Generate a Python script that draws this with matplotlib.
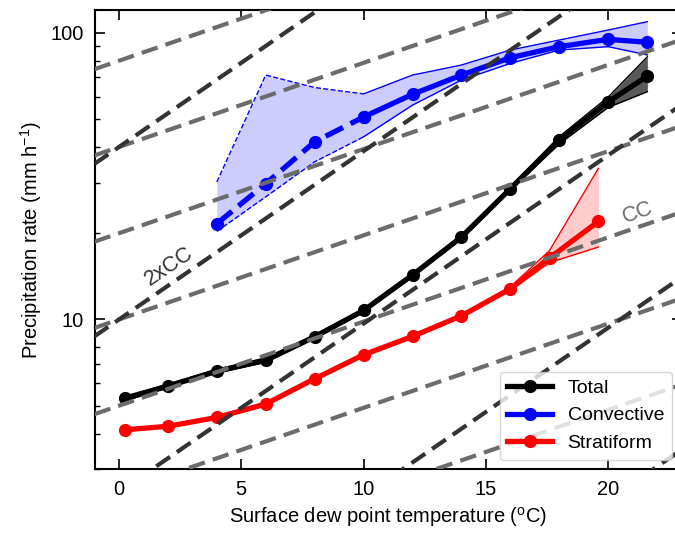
import numpy as np
import matplotlib
matplotlib.use("Agg")
import matplotlib.pyplot as plt

plt.rcParams['font.family'] = ['Liberation Sans', 'DejaVu Sans']
plt.rcParams['mathtext.fontset'] = 'custom'
plt.rcParams['mathtext.rm'] = 'Liberation Sans'
plt.rcParams['mathtext.it'] = 'Liberation Sans:italic'

# ---- data ----
temp_total = [0.25, 2, 4, 6, 8, 10, 12, 14, 16, 18, 20, 21.6]
total = [5.3, 5.85, 6.6, 7.2, 8.7, 10.75, 14.3, 19.4, 28.6, 42.3, 57.5, 70.7]
total_lo = [5.2, 5.8, 6.5, 7.1, 8.6, 10.6, 14.1, 19.1, 28.2, 41.0, 55.0, 62.4]
total_hi = [5.4, 5.95, 6.7, 7.35, 8.85, 10.9, 14.5, 19.7, 29.0, 43.5, 59.8, 82.6]

temp_conv = [4, 6, 8, 10, 12, 14, 16, 18, 20, 21.6]
conv = [21.6, 29.8, 41.7, 50.9, 61.1, 71.3, 82.0, 89.6, 95.0, 92.8]
conv_lo = [20.3, 26.8, 35.5, 43.4, 56.0, 68.5, 78.3, 87.2, 89.6, 83.8]
conv_hi = [30.2, 71.3, 64.5, 61.3, 71.3, 77.3, 87.2, 94.5, 102.4, 109.5]
conv_dashed_n = 4  # first 4 points drawn dashed

temp_strat = [0.25, 2, 4, 6, 8, 10, 12, 14, 16, 17.6, 19.6]
strat = [4.12, 4.24, 4.55, 5.07, 6.21, 7.53, 8.73, 10.3, 12.8, 16.4, 22.0]
strat_lo = [4.1, 4.2, 4.5, 5.0, 6.15, 7.45, 8.65, 10.2, 12.6, 15.8, 17.9]
strat_hi = [4.15, 4.28, 4.6, 5.12, 6.28, 7.6, 8.8, 10.4, 13.0, 17.4, 33.7]

cc_rate = 1.07
cc_bases = [1.25, 2.5, 5, 10, 20, 40, 80]
cc2_bases = [0.15625, 0.625, 2.5, 10, 40]

xlim = (-1, 23)
ylim = (3, 120)

W, H = 675, 533
fig = plt.figure(figsize=(W / 100, H / 100), dpi=100)
ax = fig.add_axes([94.5 / W, (H - 469.3) / H, (681.6 - 94.5) / W, (469.3 - 10.3) / H])
ax.set_yscale('log')
ax.set_xlim(*xlim)
ax.set_ylim(*ylim)

# total
ax.fill_between(temp_total, total_lo, total_hi, color='0.35', lw=0, zorder=2)
ax.plot(temp_total, total_lo, color='k', lw=1, zorder=3)
ax.plot(temp_total, total_hi, color='k', lw=1, zorder=3)
ax.plot(temp_total, total, color='k', lw=3.8, marker='o', ms=8.5, zorder=4, label='Total')

# convective
n = conv_dashed_n
ax.fill_between(temp_conv, conv_lo, conv_hi, color='blue', alpha=0.2, lw=0, zorder=2)
ax.plot(temp_conv[:n], conv_lo[:n], color='blue', lw=1, ls='--', zorder=3)
ax.plot(temp_conv[:n], conv_hi[:n], color='blue', lw=1, ls='--', zorder=3)
ax.plot(temp_conv[n - 1:], conv_lo[n - 1:], color='blue', lw=1, zorder=3)
ax.plot(temp_conv[n - 1:], conv_hi[n - 1:], color='blue', lw=1, zorder=3)
ax.plot(temp_conv[:n], conv[:n], color='blue', lw=3.8, ls='--', marker='o', ms=8.5, zorder=4)
ax.plot(temp_conv[n - 1:], conv[n - 1:], color='blue', lw=3.8, marker='o', ms=8.5, zorder=4,
        label='Convective')

# stratiform
ax.fill_between(temp_strat, strat_lo, strat_hi, color='red', alpha=0.2, lw=0, zorder=2)
ax.plot(temp_strat, strat_lo, color='red', lw=1, zorder=3)
ax.plot(temp_strat, strat_hi, color='red', lw=1, zorder=3)
ax.plot(temp_strat, strat, color='red', lw=3.8, marker='o', ms=8.5, zorder=4, label='Stratiform')

# reference scaling lines
xs = np.linspace(xlim[0], xlim[1], 200)
dash = (0, (4, 2))
for c in cc_bases:
    ax.plot(xs, c * cc_rate ** xs, color='#6b6b6b', lw=3.0, ls=dash, zorder=5)
for c in cc2_bases:
    ax.plot(xs, c * (cc_rate ** 2) ** xs, color='#333333', lw=3.0, ls=dash, zorder=5)

ax.text(21.2, 23.5, 'CC', color='#6b6b6b', fontsize=15.5, rotation=19,
        ha='center', va='center', zorder=6)
ax.text(2.05, 15.3, '2xCC', color='#333333', fontsize=15.5, rotation=34,
        ha='center', va='center', zorder=6)

ax.set_xticks([0, 5, 10, 15, 20])
ax.set_yticks([10, 100])
ax.set_yticklabels(['10', '100'])
ax.tick_params(which='major', direction='in', length=7, width=1.2, top=True, right=True,
               labelsize=14.5, pad=8)
ax.tick_params(which='minor', direction='in', length=3.5, width=1, top=True, right=True)
ax.yaxis.set_minor_formatter(matplotlib.ticker.NullFormatter())
for s in ax.spines.values():
    s.set_linewidth(1.5)

ax.set_xlabel('Surface dew point temperature ($\\mathregular{^{o}}$C)', fontsize=14.5)
ax.set_ylabel('Precipitation rate (mm h$\\mathregular{^{-1}}$)', fontsize=14.5)

leg = ax.legend(loc='lower right', fontsize=14, handlelength=2.3)
leg.set_zorder(10)

fig.savefig('out.png', dpi=100)
